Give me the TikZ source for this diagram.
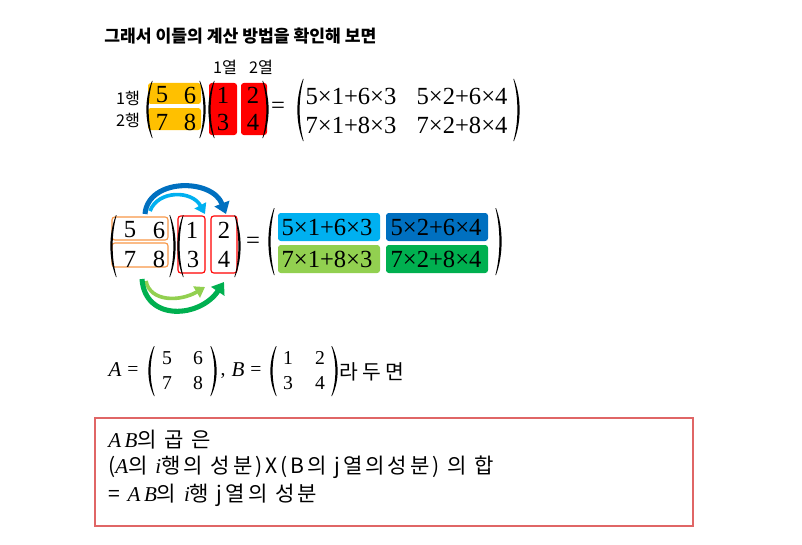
\documentclass[tikz,border=0pt]{standalone}
\usepackage{fontspec}
\setmainfont{Liberation Serif}
\newfontfamily\kr{Noto Sans CJK KR}
\newfontfamily\krw[LetterSpace=14]{Noto Sans CJK KR}
\usepackage{tikz}
\usetikzlibrary{arrows.meta,positioning}
\definecolor{hlorange}{HTML}{FFC000}
\definecolor{hlred}{HTML}{FF0000}
\definecolor{lblue}{HTML}{00B0F0}
\definecolor{dblue}{HTML}{0070C0}
\definecolor{lgreen}{HTML}{92D050}
\definecolor{dgreen}{HTML}{00B050}
\definecolor{outorange}{HTML}{F79646}
\definecolor{boxred}{HTML}{E06666}
\tikzstyle{ttl} = [anchor=west, inner sep=0, font=\kr\bfseries\fontsize{12.2}{14}\selectfont]
\tikzstyle{lab} = [inner sep=0, font=\kr\fontsize{11.5}{13}\selectfont]
\tikzstyle{num} = [inner sep=0, font=\fontsize{17.5}{19}\selectfont]
\tikzstyle{small} = [inner sep=0, font=\fontsize{14}{16}\selectfont]
\tikzstyle{prod} = [inner sep=0, font=\fontsize{17.5}{19}\selectfont]
\tikzstyle{line} = [anchor=west, inner sep=0, font=\krw\fontsize{15}{17}\selectfont]
\tikzstyle{hl} = [rounded corners=2pt]
\tikzstyle{fat} = [-{Triangle[length=8pt,width=11pt]}, line width=3.6pt]
\tikzstyle{thin} = [-{Triangle[length=7pt,width=9pt]}, line width=2.6pt]
% parentheses: x, top, bottom
\newcommand{\parL}[3]{\fill ({#1+5},#2) .. controls ({#1-2.5},{#2+0.3*(#3-#2)}) and ({#1-2.5},{#3-0.3*(#3-#2)}) .. ({#1+5},#3) -- ({#1+5.6},#3) .. controls ({#1+0.3},{#3-0.3*(#3-#2)}) and ({#1+0.3},{#2+0.3*(#3-#2)}) .. ({#1+5.6},#2) -- cycle;}
\newcommand{\parR}[3]{\fill ({#1-5},#2) .. controls ({#1+2.5},{#2+0.3*(#3-#2)}) and ({#1+2.5},{#3-0.3*(#3-#2)}) .. ({#1-5},#3) -- ({#1-5.6},#3) .. controls ({#1-0.3},{#3-0.3*(#3-#2)}) and ({#1-0.3},{#2+0.3*(#3-#2)}) .. ({#1-5.6},#2) -- cycle;}
\newcommand{\itA}{{\itshape A}}
\newcommand{\itB}{{\itshape B}}

\begin{document}
\begin{tikzpicture}[x=0.025cm, y=-0.025cm]
    \useasboundingbox (0,0) rectangle (802,545);
    % Title
    \node[ttl] (title) at (104,36) {그래서 이들의 계산 방법을 확인해 보면};

    % First product: filled blocks
    \fill[hlorange, hl] (148,83) rectangle (201,104);
    \fill[hlorange, hl] (148,108) rectangle (201,130);
    \fill[hlred, hl] (209,83) rectangle (237,135);
    \fill[hlred, hl] (241,83) rectangle (267,135);
    \node[lab] (c1) at (225,67) {1열};
    \node[lab] (c2) at (261,67) {2열};
    \node[lab] (r1) at (128,98) {1행};
    \node[lab] (r2) at (128,120) {2행};
    \foreach \v/\x/\y in {5/162/95, 6/190/95, 7/162/122, 8/190/122, 1/223/95, 2/253/95, 3/223/122, 4/253/122}
        \node[num] (ta\v) at (\x,\y) {\v};
    \parL{147}{81}{138} \parR{205}{81}{138}
    \parL{209}{81}{138} \parR{268}{81}{138}
    \node[num] (teq) at (278,108) {=};
    \parL{298}{79}{141} \parR{519}{79}{141}
    \node[prod] (t11) at (351,96) {5×1+6×3};
    \node[prod] (t12) at (462,96) {5×2+6×4};
    \node[prod] (t21) at (351,125) {7×1+8×3};
    \node[prod] (t22) at (462,125) {7×2+8×4};

    % Second product: outlines and coloured entries
    \draw[outorange, hl, thick] (112,217) rectangle (168,240);
    \draw[outorange, hl, thick] (112,243) rectangle (168,267);
    \draw[hlred, hl, thick] (178,216) rectangle (205,273);
    \draw[hlred, hl, thick] (211,216) rectangle (237,273);
    \foreach \v/\x/\y in {5/130/230, 6/159/230, 7/130/259, 8/159/259, 1/192/230, 2/224/230, 3/193/259, 4/224/259}
        \node[num] (sa\v) at (\x,\y) {\v};
    \parL{111}{215}{277} \parR{175}{215}{277}
    \parL{178}{215}{277} \parR{240}{215}{277}
    \node[num] (seq) at (253,243) {=};
    \fill[lblue, hl] (278,213) rectangle (380,241);
    \fill[dblue, hl] (386,213) rectangle (488,241);
    \fill[lgreen, hl] (278,245) rectangle (380,273);
    \fill[dgreen, hl] (386,245) rectangle (488,273);
    \parL{269}{208}{275} \parR{501}{208}{275}
    \node[prod] (s11) at (327,227) {5×1+6×3};
    \node[prod] (s12) at (436,227) {5×2+6×4};
    \node[prod] (s21) at (327,259) {7×1+8×3};
    \node[prod] (s22) at (436,259) {7×2+8×4};
    % arrows
    \coordinate (bs) at (145,214);
    \coordinate (be) at (226,214);
    \coordinate (lbs) at (150,211);
    \coordinate (lbe) at (205,214);
    \coordinate (gs) at (142,279);
    \coordinate (ge) at (224,282);
    \coordinate (lgs) at (146,281);
    \coordinate (lge) at (205,287);
    \draw[thin, lblue] (lbs) .. controls (158,190) and (192,190) .. (lbe);
    \draw[fat, dblue] (bs) .. controls (148,178) and (212,178) .. (be);
    \draw[thin, lgreen] (lgs) .. controls (150,302) and (180,302) .. (lge);
    \draw[fat, dgreen] (gs) .. controls (145,322) and (200,318) .. (ge);

    % A and B
    \node[inner sep=0, font=\fontsize{15}{17}\selectfont] (A) at (115,370) {\itA};
    \node[small] (aeq) at (133,371) {=};
    \foreach \v/\x/\y in {5/167/358, 6/198/358, 7/167/383, 8/198/383}
        \node[small] (ma\v) at (\x,\y) {\v};
    \parL{149}{346}{396} \parR{216}{346}{396}
    \node[small] (comma) at (223,376) {,};
    \node[inner sep=0, font=\fontsize{15}{17}\selectfont] (B) at (238,370) {\itB};
    \node[small] (beq) at (256,371) {=};
    \foreach \v/\x/\y in {1/288/358, 2/320/358, 3/288/383, 4/320/383}
        \node[small] (mb\v) at (\x,\y) {\v};
    \parL{271}{346}{396} \parR{337}{346}{396}
    \node[line, font=\kr\fontsize{14.5}{16}\selectfont] (rd) at (339,372) {라 두 면};

    % Box
    \draw[boxred, line width=1.2pt] (95,418) rectangle (693,526);
    \node[line] (l1) at (108,440) {{\rmfamily\itshape A\,B}의 곱 은};
    \node[line] (l2) at (108,467) {({\rmfamily\itshape A}의 {\rmfamily\itshape i}행의 성분)X(B의 j열의성분) 의 합};
    \node[line] (l3) at (108,495) {= {\rmfamily\itshape A\,B}의 {\rmfamily\itshape i}행 j열의 성분};
\end{tikzpicture}
\end{document}
